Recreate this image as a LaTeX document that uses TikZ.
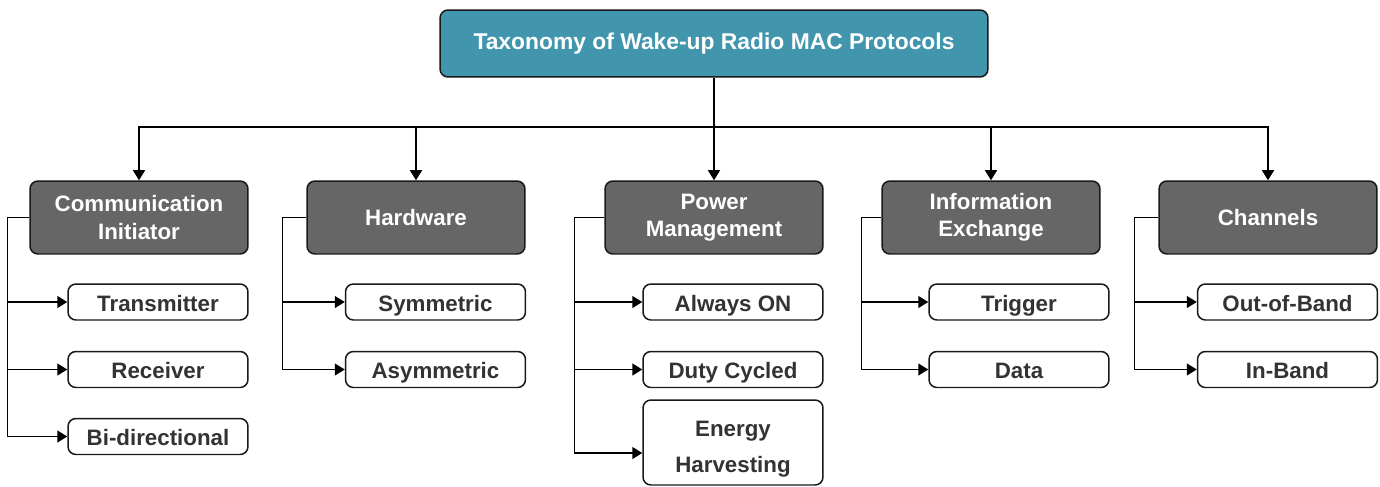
\documentclass[tikz,border=0pt]{standalone}
\usepackage{fontspec}
\setmainfont{Liberation Sans}
\usetikzlibrary{arrows.meta}
\definecolor{teal1}{HTML}{4196AE}
\definecolor{cinza}{HTML}{666666}
\definecolor{texto}{HTML}{333333}
\begin{document}
\begin{tikzpicture}
  [x=0.02cm, y=-0.02cm, line width=0.85pt,
   font=\fontsize{12.7}{15.6}\selectfont\bfseries,
   rootbox/.style={draw=black!90, fill=teal1, text=white, rounded corners=4.5pt,
     minimum width=10.96cm, minimum height=1.34cm, inner sep=0pt, align=center,
     font=\fontsize{13}{16}\selectfont\bfseries},
   catbox/.style={draw=black!90, fill=cinza, text=white, rounded corners=4.5pt,
     minimum width=4.36cm, minimum height=1.46cm, inner sep=0pt, align=center},
   leafbox/.style={draw=black!90, fill=white, text=texto, rounded corners=4.5pt,
     minimum width=3.6cm, minimum height=0.72cm, inner sep=0pt, align=center,
     text height=12pt, text depth=1.2pt},
   arr/.style={-{Triangle[length=5.7pt,width=6.8pt]}}]

  \useasboundingbox (0,0) rectangle (1380,487);

  % Raiz
  \node[rootbox] (root) at (714,43.5) {Taxonomy of Wake-up Radio MAC Protocols};

  % Categorias
  \node[catbox] (comm) at (139,217.5) {Communication\\Initiator};
  \node[catbox] (hw) at (416,217.5) {Hardware};
  \node[catbox] (pm) at (714,217.5) {Power\\Management};
  \node[catbox] (info) at (991,217.5) {Information\\Exchange};
  \node[catbox] (ch) at (1268,217.5) {Channels};

  % Folhas de Communication Initiator
  \node[leafbox] (tx) at (158,302) {Transmitter};
  \node[leafbox] (rx) at (158,369.5) {Receiver};
  \node[leafbox] (bidir) at (158,436.5) {Bi-directional};

  % Folhas de Hardware
  \node[leafbox] (sym) at (435.5,302) {Symmetric};
  \node[leafbox] (asym) at (435.5,369.5) {Asymmetric};

  % Folhas de Power Management
  \node[leafbox, minimum height=1.7cm, text height=36.5pt, text depth=2.7pt] (eh) at (733,442.5)
    {Energy\\[5pt]Harvesting};
  \node[leafbox] (aon) at (733,302) {Always ON};
  \node[leafbox] (duty) at (733,369.5) {Duty Cycled};

  % Folhas de Information Exchange
  \node[leafbox] (trig) at (1019,302) {Trigger};
  \node[leafbox] (data) at (1019,369.5) {Data};

  % Folhas de Channels
  \node[leafbox] (oob) at (1287.5,302) {Out-of-Band};
  \node[leafbox] (inb) at (1287.5,369.5) {In-Band};

  % Barramento da raiz para as categorias
  \coordinate (bus) at (714,127);
  \draw (root.south) -- (bus);
  \foreach \c in {comm,hw,pm,info,ch}
    \draw[arr] (bus) -| (\c.north);

  % Ramos das categorias para as folhas
  \foreach \l in {tx,rx,bidir}
    \draw[arr] (comm.west) -- ++(-22,0) |- (\l.west);
  \foreach \l in {sym,asym}
    \draw[arr] (hw.west) -- ++(-24,0) |- (\l.west);
  \foreach \l in {aon,duty}
    \draw[arr] (pm.west) -- ++(-30,0) |- (\l.west);
  \draw[arr] (pm.west) -- ++(-30,0) |- ([yshift=-0.21cm]eh.west);
  \foreach \l in {trig,data}
    \draw[arr] (info.west) -- ++(-20,0) |- (\l.west);
  \foreach \l in {oob,inb}
    \draw[arr] (ch.west) -- ++(-24,0) |- (\l.west);
\end{tikzpicture}
\end{document}
